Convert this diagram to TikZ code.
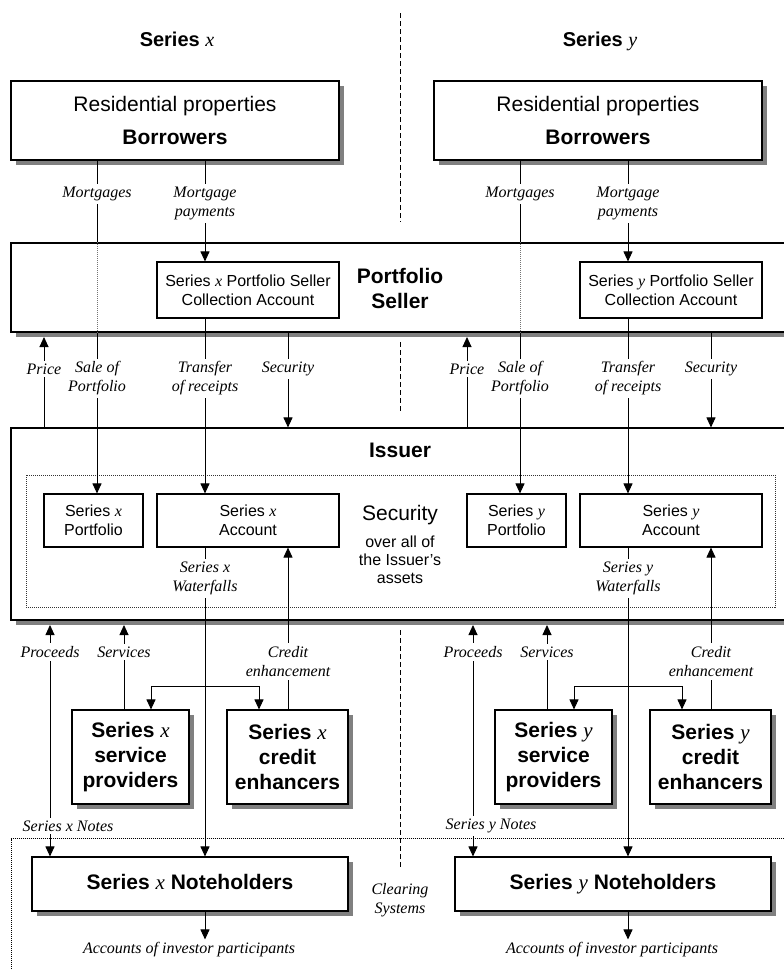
\documentclass[tikz,border=0pt]{standalone}
\usepackage{fontspec}
\setmainfont{Liberation Sans}
\newfontfamily\tms{Liberation Serif}
\usetikzlibrary{arrows.meta,shadows}
\newcommand\fBig{\fontsize{21}{25}\selectfont}
\newcommand\fMid{\fontsize{16}{19}\selectfont}
\newcommand\vv[1]{{\tms\itshape\mdseries #1}}
\begin{document}
\begin{tikzpicture}[x=1pt,y=-1pt,
  lw/.style={line width=0.9pt},
  box/.style={draw, line width=1.1pt, fill=white, inner sep=0pt, align=center},
  sbox/.style={box, drop shadow={shadow xshift=5pt,shadow yshift=-5pt,fill=black!50,opacity=1}},
  lab/.style={fill=white, inner xsep=2pt, inner ysep=3pt, align=center, font=\fMid\tms\itshape},
  arr/.style={lw,-{Triangle[length=10pt,width=9pt]}},
  darr/.style={lw,{Triangle[length=10pt,width=9pt]}-{Triangle[length=10pt,width=9pt]}},
  ln/.style={lw},
  cdash/.style={line width=0.9pt, dash pattern=on 5pt off 3pt},
  fdot/.style={line width=0.8pt, dash pattern=on 1pt off 1pt}
]
\clip (0,0) rectangle (784,970);
\fill[white] (0,0) rectangle (784,970);

% centre dashed line
\draw[cdash] (400,13) -- (400,222);
\draw[cdash] (400,342) -- (400,412);
\draw[cdash] (400,630) -- (400,868);

% clearing systems region
\draw[fdot] (11,975) -- (11,838.5) -- (790,838.5);
\node[font=\fMid\tms\itshape, align=center] (clr) at (400,900) {Clearing\\Systems};

% titles and borrowers
\foreach \s/\dx in {x/0,y/423}{
  \begin{scope}[shift={(\dx,0)}]
    \node[font=\fontsize{20}{24}\selectfont, anchor=base] (tt\s) at (177,46) {\textbf{Series} \vv{\s}};
    \node[sbox, minimum width=328pt, minimum height=79pt, font=\fBig] (bor\s) at (175,120.5)
      {Residential properties\\[8pt]\textbf{Borrowers}};
  \end{scope}
}

% shared boxes
\node[sbox, minimum width=790pt, minimum height=89pt] (ps) at (406,287.5) {};
\node[sbox, minimum width=790pt, minimum height=192pt] (iss) at (406,524) {};
\node[draw, fdot, black!80, minimum width=749pt, minimum height=132pt, inner sep=0pt] (secbox) at (400.5,541) {};
\node[font=\fBig\bfseries, align=center] (pstxt) at (400,288.5) {Portfolio\\Seller};
\node[font=\fBig\bfseries] (isstxt) at (400,450) {Issuer};
\node[font=\fBig] (sectxt) at (400,515) {Security};
\node[font=\fontsize{16}{18}\selectfont, align=center] (sectxt2) at (400,560) {over all of\\the Issuer's\\assets};
\coordinate (psb) at (0,337);
\coordinate (issb) at (0,625);

\foreach \s/\dx in {x/0,y/423}{
  \begin{scope}[shift={(\dx,0)}]
    % boxes
    \node[box, minimum width=182pt, minimum height=56pt, font=\fMid] (ca\s) at (248,290)
      {Series \vv{\s} Portfolio Seller\\Collection Account};
    \node[box, minimum width=99pt, minimum height=53pt, font=\fMid] (pf\s) at (93.5,520.5)
      {Series \vv{\s}\\Portfolio};
    \node[box, minimum width=182pt, minimum height=53pt, font=\fMid] (ac\s) at (248,520.5)
      {Series \vv{\s}\\Account};
    \node[sbox, minimum width=117pt, minimum height=94pt, font=\fBig\bfseries] (sv\s) at (130.5,757)
      {Series \vv{\s}\\service\\providers};
    \node[sbox, minimum width=121pt, minimum height=94pt, font=\fBig\bfseries] (cr\s) at (287.5,757)
      {Series \vv{\s}\\credit\\enhancers};
    \node[sbox, minimum width=316pt, minimum height=54pt, text height=15pt, text depth=5pt, font=\fBig\bfseries] (nh\s) at (190,884)
      {Series \vv{\s} Noteholders};
    \node[lab] (acc\s) at (189,950) {Accounts of investor participants};

    % connector x positions
    \coordinate (cM\s) at (97,0);
    \coordinate (cP\s) at (205,0);
    \coordinate (cPr\s) at (44,0);
    \coordinate (cS\s) at (288,0);
    \coordinate (cN\s) at (50,0);
    \coordinate (cSv\s) at (124,0);
    \coordinate (bl\s) at (151,686);
    \coordinate (br\s) at (259,686);

    % connectors
    \draw[ln] (bor\s.south -| cM\s) -- (ps.north -| cM\s);
    \draw[fdot, black!55] (ps.north -| cM\s) -- (ps.south -| cM\s);
    \draw[arr] (ps.south -| cM\s) -- (pf\s.north -| cM\s);
    \draw[arr] (bor\s.south -| cP\s) -- (ca\s.north -| cP\s);
    \draw[arr] (iss.north -| cPr\s) -- (psb -| cPr\s);
    \draw[arr] (ca\s.south -| cP\s) -- (ac\s.north -| cP\s);
    \draw[arr] (ps.south -| cS\s) -- (iss.north -| cS\s);
    \draw[arr] (ac\s.south -| cP\s) -- (nh\s.north -| cP\s);
    \draw[darr] (sv\s.north -| bl\s) -- (bl\s) -- (br\s) -- (cr\s.north -| br\s);
    \draw[arr] (cr\s.north -| cS\s) -- (ac\s.south -| cS\s);
    \draw[arr] (sv\s.north -| cSv\s) -- (issb -| cSv\s);
    \draw[darr] (nh\s.north -| cN\s) -- (issb -| cN\s);
    \draw[arr] (nh\s.south -| cP\s) -- (acc\s.north -| cP\s);

    % labels
    \node[lab] (lmo\s) at (97,194) {Mortgages};
    \node[lab] (lmp\s) at (205,203.5) {Mortgage\\payments};
    \node[lab] (lpr\s) at (44,369) {Price};
    \node[lab] (lsp\s) at (97,378.5) {Sale of\\Portfolio};
    \node[lab] (ltr\s) at (205,378.5) {Transfer\\of receipts};
    \node[lab] (lse\s) at (288,369) {Security};
    \node[lab] (lwf\s) at (205,578.5) {Series \s\\Waterfalls};
    \node[lab] (lpc\s) at (50,652) {Proceeds};
    \node[lab] (lsv\s) at (124,652) {Services};
    \node[lab] (lce\s) at (288,661.5) {Credit\\enhancement};
    \node[lab] (lno\s) at (68,826) {Series \s{} Notes};
  \end{scope}
}
\end{tikzpicture}
\end{document}
